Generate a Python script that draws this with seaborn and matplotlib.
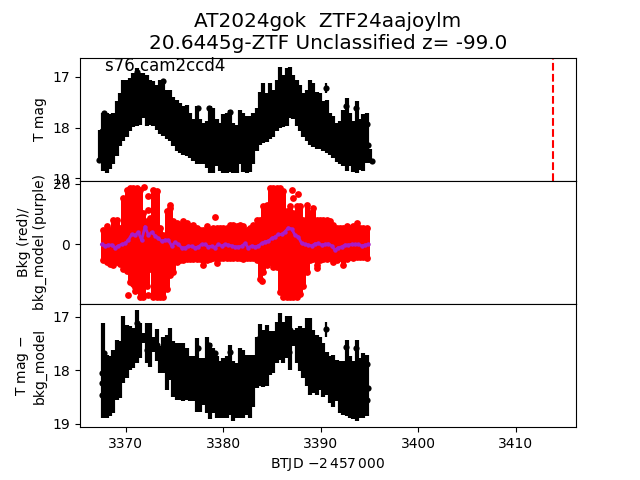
import numpy as np
import pandas as pd
import seaborn as sns
import matplotlib
matplotlib.use("Agg")
import matplotlib.pyplot as plt

title = "AT2024gok  ZTF24aajoylm\n20.6445g-ZTF Unclassified z= -99.0"
sector_label = "s76 cam2ccd4"
peak_time = 3413.82

btjd = [3367.36, 3367.70, 3368.04, 3368.39, 3368.73, 3369.07, 3369.41, 3369.75, 3370.10, 3370.44,
        3370.78, 3371.12, 3371.46, 3371.80, 3372.15, 3372.49, 3372.83, 3373.17, 3373.51, 3373.86,
        3374.20, 3374.54, 3374.88, 3375.22, 3375.57, 3375.91, 3376.25, 3376.59, 3376.93, 3377.28,
        3377.62, 3377.96, 3378.30, 3378.64, 3378.99, 3379.33, 3379.67, 3380.01, 3380.35, 3380.69,
        3381.04, 3381.38, 3381.72, 3382.06, 3382.40, 3382.75, 3383.09, 3383.43, 3383.77, 3384.11,
        3384.46, 3384.80, 3385.14, 3385.48, 3385.82, 3386.17, 3386.51, 3386.85, 3387.19, 3387.53,
        3387.88, 3388.22, 3388.56, 3388.90, 3389.24, 3389.58, 3389.93, 3390.27, 3390.61, 3390.95,
        3391.29, 3391.64, 3391.98, 3392.32, 3392.66, 3393.00, 3393.35, 3393.69, 3394.03, 3394.37,
        3394.71, 3395.06]

# top panel, upper and lower end of the error bars
tmag_upper = [18.04, 17.71, 17.71, 17.74, 17.71, 17.48, 17.32, 17.06, 17.06, 17.03,
              16.93, 16.83, 16.93, 16.93, 16.96, 17.06, 17.09, 17.16, 17.06, 17.06,
              17.25, 17.25, 17.39, 17.45, 17.52, 17.58, 17.55, 17.71, 17.84, 17.58,
              17.84, 17.91, 17.87, 17.58, 17.61, 17.84, 17.91, 17.74, 17.71, 17.65,
              17.91, 17.94, 17.65, 17.71, 17.78, 17.78, 17.71, 17.61, 17.29, 17.12,
              17.32, 17.12, 17.25, 17.06, 16.80, 16.96, 16.83, 16.80, 16.96, 17.06,
              17.16, 17.32, 17.25, 17.06, 17.12, 17.29, 17.32, 17.48, 17.45, 17.71,
              17.78, 17.91, 17.87, 17.65, 17.42, 17.71, 17.87, 17.48, 17.84, 17.74,
              17.71, 18.43]
tmag_lower = [18.69, 18.86, 18.90, 18.82, 18.72, 18.56, 18.37, 18.27, 18.18, 18.07,
              17.99, 17.97, 17.94, 17.81, 17.96, 17.94, 17.97, 18.04, 18.12, 18.17,
              18.22, 18.27, 18.37, 18.46, 18.50, 18.55, 18.57, 18.61, 18.66, 18.72,
              18.72, 18.72, 18.79, 18.90, 18.90, 18.76, 18.86, 18.90, 18.90, 18.88,
              18.90, 18.89, 18.72, 18.88, 18.89, 18.88, 18.72, 18.46, 18.35, 18.31,
              18.28, 18.23, 18.18, 18.07, 18.01, 17.99, 17.96, 17.81, 17.84, 17.96,
              18.07, 18.18, 18.27, 18.35, 18.39, 18.42, 18.43, 18.46, 18.51, 18.55,
              18.61, 18.68, 18.72, 18.76, 18.86, 18.76, 18.88, 18.90, 18.84, 18.86,
              18.69, 18.69]
dots_t = [3367.29, 3367.53, 3367.77, 3371.12, 3373.86, 3377.45, 3378.57, 3380.69, 3390.54,
          3392.59, 3392.83, 3393.62, 3394.78, 3394.88, 3395.22]
dots_mag = [18.63, 18.07, 17.71, 16.91, 17.09, 17.61, 17.61, 17.69, 17.22,
            17.58, 17.81, 17.61, 17.92, 18.35, 18.66]

# middle panel, background flux
bkg_upper = [4.8, 5.9, 4.8, 8.1, 8.1, 5.3, 15.3, 18.1, 18.7, 18.7,
             18.7, 18.1, 10.3, 7.6, 8.7, 18.1, 17.6, 5.3, 3.1, 10.9,
             12.0, 7.6, 7.0, 6.4, 7.6, 7.0, 5.9, 6.4, 5.3, 4.8,
             4.8, 5.9, 4.8, 5.3, 5.3, 5.3, 5.3, 5.3, 6.4, 6.4,
             5.9, 6.4, 5.9, 4.8, 5.3, 6.4, 8.1, 8.1, 12.6, 13.1,
             18.7, 18.7, 18.7, 18.7, 17.6, 10.9, 12.6, 10.3, 12.6, 12.6,
             8.1, 13.1, 10.3, 12.0, 8.1, 8.1, 8.1, 8.1, 7.6, 6.4,
             5.3, 5.3, 5.3, 5.9, 5.3, 5.9, 7.0, 5.3, 5.3, 5.3]
bkg_lower = [-5.4, -6.0, -6.6, -7.1, -6.0, -6.6, -8.2, -8.8, -12.7, -13.2,
             -13.8, -17.7, -17.7, -13.8, -8.2, -17.7, -17.7, -17.7, -17.7, -14.9,
             -10.4, -9.3, -6.0, -5.4, -5.4, -5.1, -4.9, -5.1, -5.1, -4.9,
             -7.1, -5.4, -5.1, -4.7, -6.2, -4.7, -4.7, -4.7, -4.7, -4.7,
             -4.7, -4.7, -4.9, -4.7, -4.7, -4.7, -5.4, -11.6, -9.3, -7.1,
             -6.0, -7.7, -7.7, -16.0, -17.7, -17.7, -17.7, -17.7, -17.7, -16.6,
             -13.8, -9.3, -5.4, -4.9, -7.1, -5.4, -5.1, -5.1, -4.7, -6.0,
             -5.4, -4.7, -7.1, -5.1, -4.3, -4.7, -4.3, -4.3, -4.3, -4.7]
bkg_dots_t = [3371.91, 3372.32, 3372.32, 3374.54, 3379.19, 3370.27, 3370.95, 3370.95, 3372.32,
              3383.94, 3389.65, 3387.09, 3387.70, 3387.19]
bkg_dots_val = [18.8, 16.1, 11.3, 13.0, 9.1, -16.8, -14.2, -15.7, -16.8,
                -12.3, -8.1, 18.0, 16.6, 15.4]

model_t = [3367.53, 3367.87, 3368.21, 3368.56, 3368.90, 3369.24, 3369.58, 3369.92, 3370.27, 3370.61,
           3370.95, 3371.29, 3371.63, 3371.98, 3372.32, 3372.66, 3373.00, 3373.34, 3373.68, 3374.03,
           3374.37, 3374.71, 3375.05, 3375.39, 3375.74, 3376.08, 3376.42, 3376.76, 3377.10, 3377.45,
           3377.79, 3378.13, 3378.47, 3378.81, 3379.15, 3379.50, 3379.84, 3380.18, 3380.52, 3380.86,
           3381.21, 3381.55, 3381.89, 3382.23, 3382.57, 3382.92, 3383.26, 3383.60, 3383.94, 3384.28,
           3384.63, 3384.97, 3385.31, 3385.65, 3385.99, 3386.33, 3386.68, 3387.02, 3387.36, 3387.70,
           3388.04, 3388.39, 3388.73, 3389.07, 3389.41, 3389.75, 3390.10, 3390.44, 3390.78, 3391.12,
           3391.46, 3391.80, 3392.15, 3392.49, 3392.83, 3393.17, 3393.51, 3393.86, 3394.20, 3394.54,
           3394.88]
model_val = [-0.1, -0.6, -0.3, -0.3, -1.2, -0.6, -0.1, 0.2, 1.3, 3.2,
             3.0, 3.9, 1.3, 5.8, 3.0, 3.9, 2.8, 1.9, 1.0, 1.3,
             1.3, -0.6, 0.6, -0.1, -1.2, -1.2, -0.7, -0.7, -1.2, -0.9,
             -0.1, -0.1, -0.9, -0.7, -1.2, -0.1, -0.6, -0.1, -0.3, -0.6,
             -0.9, -0.9, -0.7, 0.2, -1.2, -0.6, -0.9, -0.6, 0.2, 0.8,
             1.0, 1.9, 2.4, 3.2, 3.2, 4.1, 5.4, 5.0, 3.0, 2.4,
             0.2, -0.1, -0.3, -0.6, 0.1, 0.2, -0.3, -0.1, 0.1, -0.6,
             -2.0, -1.2, -0.9, -0.3, -0.3, -0.1, -0.1, -0.1, -0.6, -0.3,
             -0.1]

# bottom panel, background subtracted
sub_upper = [17.12, 17.71, 17.74, 17.62, 17.43, 17.46, 16.99, 17.15, 17.18, 17.21,
             16.87, 17.12, 17.30, 17.12, 17.12, 17.37, 17.23, 17.55, 17.37, 17.34,
             17.21, 17.46, 17.49, 17.49, 17.49, 17.59, 17.74, 17.74, 17.40, 17.77,
             17.77, 17.37, 17.49, 17.59, 17.74, 17.83, 17.77, 17.74, 17.52, 17.83,
             17.87, 17.59, 17.62, 17.71, 17.71, 17.71, 17.37, 17.13, 17.24, 17.15,
             17.27, 17.27, 17.09, 16.93, 17.09, 16.98, 16.99, 17.24, 17.21, 17.18,
             17.21, 17.02, 17.02, 17.24, 17.34, 17.37, 17.49, 17.65, 17.74, 17.71,
             17.80, 17.83, 17.83, 17.43, 17.74, 17.83, 17.43, 17.77, 17.68, 17.71]
sub_lower = [18.89, 18.89, 18.86, 18.80, 18.55, 18.52, 18.23, 18.15, 17.99, 17.96,
             17.87, 17.77, 17.49, 17.87, 17.93, 17.65, 17.82, 18.05, 18.05, 18.36,
             18.18, 18.49, 18.55, 18.55, 18.58, 18.55, 18.58, 18.58, 18.77, 18.77,
             18.64, 18.80, 18.91, 18.80, 18.89, 18.89, 18.89, 18.89, 18.83, 18.94,
             18.89, 18.89, 18.89, 18.83, 18.89, 18.68, 18.33, 18.30, 18.31, 18.30,
             18.08, 18.04, 17.87, 17.80, 17.87, 17.77, 17.99, 17.55, 17.87, 18.02,
             18.15, 18.29, 18.46, 18.43, 18.46, 18.36, 18.49, 18.46, 18.61, 18.69,
             18.58, 18.80, 18.83, 18.86, 18.89, 18.91, 18.94, 18.89, 18.89, 18.86]
sub_dots_t = [3367.53, 3367.53, 3367.53, 3367.77, 3371.12, 3372.05, 3372.15, 3372.66, 3373.24, 3373.69,
              3374.37, 3377.45, 3378.57, 3379.16, 3380.69, 3383.60, 3383.94, 3385.89, 3386.85, 3386.78,
              3387.46, 3388.73, 3390.54, 3392.59, 3393.62, 3394.78, 3394.88, 3394.78]
sub_dots_mag = [18.05, 18.24, 18.45, 17.68, 17.11, 17.40, 17.62, 17.59, 17.52, 17.74,
                18.02, 17.59, 17.52, 17.68, 17.65, 17.42, 17.30, 17.15, 17.24, 17.65,
                17.43, 17.21, 17.23, 17.57, 17.59, 17.88, 18.33, 18.55]

# the lone point near 3390.5 with its own error bar, top and bottom panel
lone_t = 3390.54
lone_top = [17.12, 17.32]
lone_bottom = [17.09, 17.37]

fig, axes = plt.subplots(3, 1, sharex=True, figsize=(6.4, 4.8), dpi=100)
fig.subplots_adjust(hspace=0)
ax1, ax2, ax3 = axes

bar_width = 3.0

# --- top panel ---
ax1.vlines(btjd, tmag_upper, tmag_lower, color="k", lw=bar_width)
ax1.vlines(lone_t, lone_top[0], lone_top[1], color="k", lw=1.6)
sns.scatterplot(x=dots_t, y=dots_mag, color="k", s=20, linewidth=0, ax=ax1)
ax1.axvline(peak_time, color="r", linestyle="--", lw=1.5)
ax1.text(3367.9, 16.88, sector_label, fontsize=12)
ax1.set_ylim(19.05, 16.62)
ax1.set_yticks([17, 18, 19])
ax1.set_ylabel("T mag")
ax1.set_title(title, fontsize=14.4)

# --- middle panel ---
ax2.vlines(btjd[1:81], bkg_upper, bkg_lower, color="r", lw=3.6)
bkg_df = pd.DataFrame({
    "t": btjd[1:81] + btjd[1:81] + bkg_dots_t,
    "val": bkg_upper + bkg_lower + bkg_dots_val,
})
sns.scatterplot(data=bkg_df, x="t", y="val", color="r", s=24, linewidth=0, ax=ax2)
sns.lineplot(x=model_t, y=model_val, color="#a81cc8", lw=2.0, marker="o", markersize=3.2,
             markeredgewidth=0, sort=False, errorbar=None, ax=ax2)
ax2.set_ylim(-19.9, 21)
ax2.set_yticks([0, 20])
ax2.set_ylabel("Bkg (red)/\nbkg_model (purple)")

# --- bottom panel ---
ax3.vlines(btjd[1:81], sub_upper, sub_lower, color="k", lw=bar_width)
ax3.vlines(lone_t, lone_bottom[0], lone_bottom[1], color="k", lw=1.6)
sns.scatterplot(x=sub_dots_t, y=sub_dots_mag, color="k", s=20, linewidth=0, ax=ax3)
ax3.set_ylim(19.06, 16.76)
ax3.set_yticks([17, 18, 19])
ax3.set_ylabel("T mag $-$\nbkg_model")
ax3.set_xlabel(r"BTJD $-2\,457\,000$")
ax3.set_xlim(3365.31, 3416.18)
ax3.set_xticks([3370, 3380, 3390, 3400, 3410])

for ax in (ax1, ax2):
    ax.tick_params(axis="x", bottom=False)

fig.savefig("out.png", dpi=100)
